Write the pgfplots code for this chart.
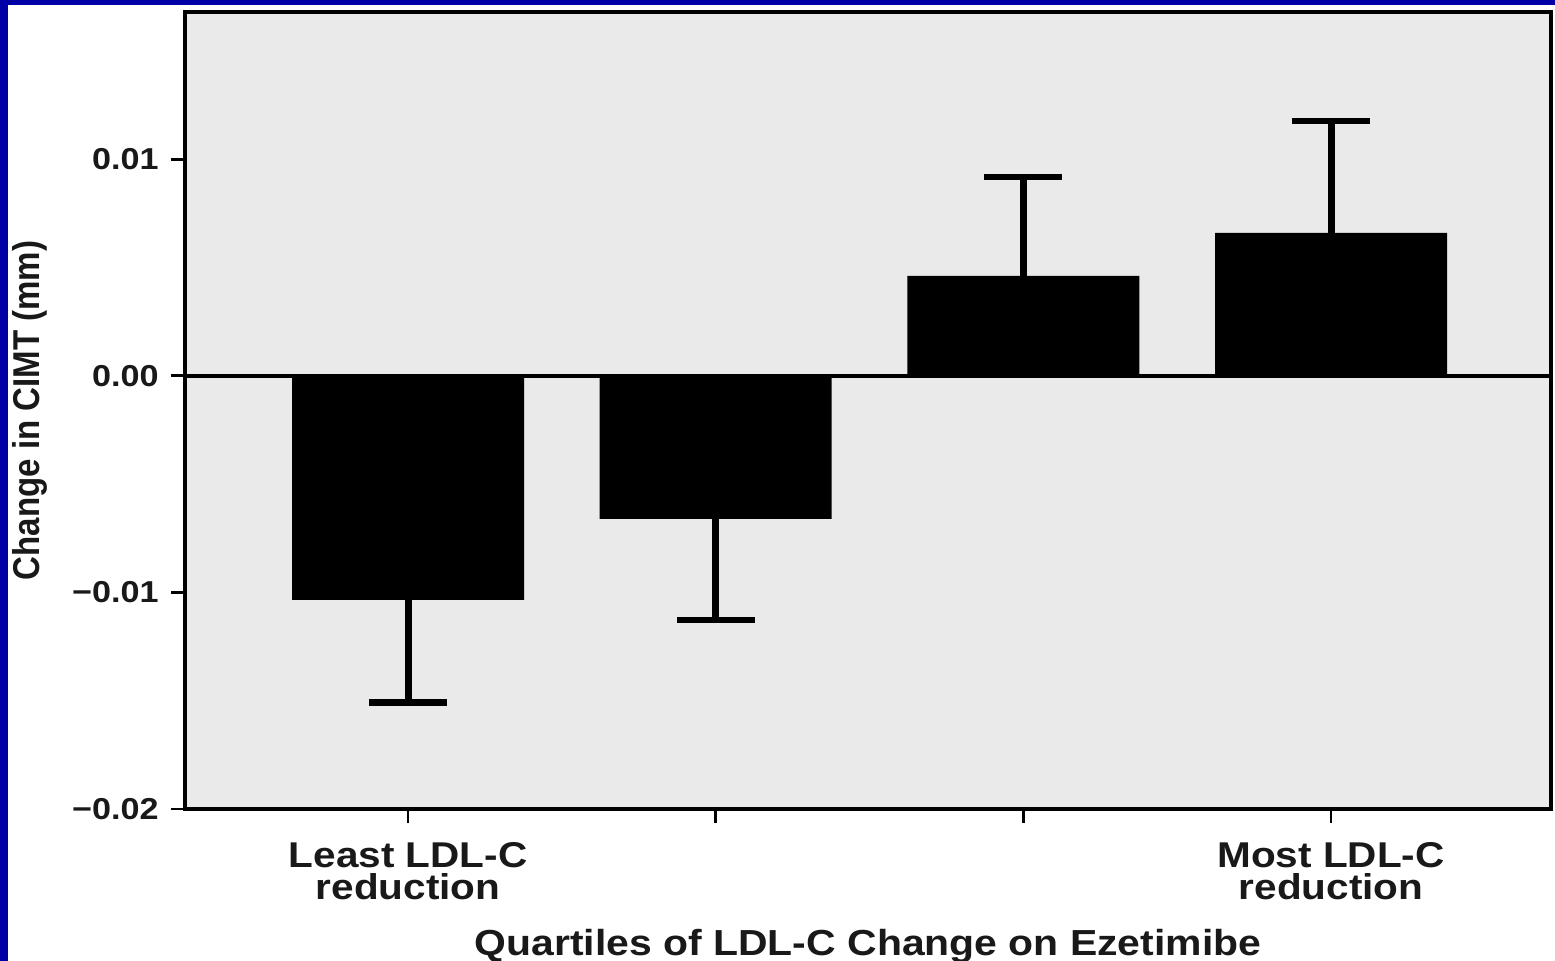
\documentclass[border=0pt]{standalone}
\usepackage{fontspec}
\setmainfont{Liberation Sans}[FakeStretch=1.13]
\newfontfamily\ylabfont{Liberation Sans}
\usepackage{pgfplots}
\pgfplotsset{compat=1.18}
\definecolor{slideblue}{RGB}{0,0,166}
\definecolor{panel}{RGB}{234,234,234}

% mean change in CIMT per quartile, with one-sided error bars
\pgfplotstableread{
q val errp errm
0 -0.01034 0 0.00475
1 -0.00660 0 0.00466
2 0.00462 0.00457 0
3 0.00660 0.00517 0
}\cimt

\begin{document}
\bfseries
\begin{tikzpicture}
\useasboundingbox (0,0) rectangle (15.55,9.61);
\fill[slideblue] (0,0) rectangle (15.55,9.61);
\fill[white] (0.08,0) rectangle (15.55,9.56);
\begin{axis}[
  at={(1.85cm,1.52cm)}, anchor=south west,
  scale only axis, width=13.66cm, height=7.97cm,
  xmin=-0.725, xmax=3.715, ymin=-0.02, ymax=0.0168,
  axis background/.style={fill=panel},
  axis line style={line width=1.3pt, black},
  tick align=outside, tick pos=left,
  major tick length=0.14cm,
  tick style={line width=0.8pt, black},
  xtick={0,1,2,3},
  xticklabels={{Least LDL-C\\reduction},{},{},{Most LDL-C\\reduction}},
  ytick={-0.02,-0.01,0,0.01},
  yticklabels={−0.02,−0.01,0.00,0.01},
  x tick label style={align=center, yshift=-0.07cm,
    font=\bfseries\fontsize{10.2}{9.2}\selectfont, text=black!90},
  y tick label style={font=\bfseries\fontsize{8.6}{10}\selectfont, text=black!90},
  xlabel={Quartiles of LDL-C Change on Ezetimibe},
  xlabel style={at={(axis description cs:0.5,-0.172)}, anchor=center,
    font=\bfseries\fontsize{10.3}{12}\selectfont, text=black!90},
  ylabel={\scalebox{1}[1.13]{Change in CIMT (mm)}},
  ylabel style={at={(axis description cs:-0.1135,0.5)}, anchor=center,
    font=\ylabfont\bfseries\fontsize{9.4}{11}\selectfont, text=black!90},
]
\addplot[ybar, bar width=2.32cm, bar shift=0pt, fill=black, draw=none]
  table[x=q, y=val]{\cimt};
% downward whiskers on the two negative quartiles
\addplot[draw=none, forget plot, skip coords between index={2}{4},
  error bars/.cd, y dir=minus, y explicit, error mark=|,
  error bar style={draw=black, line width=2pt},
  error mark options={draw=black, line width=1.8pt, mark size=0.39cm}]
  table[x=q, y=val, y error plus=errp, y error minus=errm]{\cimt};
% upward whiskers on the two positive quartiles
\addplot[draw=none, forget plot, skip coords between index={0}{2},
  error bars/.cd, y dir=plus, y explicit, error mark=|,
  error bar style={draw=black, line width=2pt},
  error mark options={draw=black, line width=1.8pt, mark size=0.39cm}]
  table[x=q, y=val, y error plus=errp, y error minus=errm]{\cimt};
\draw[line width=1pt, black] (axis cs:-0.725,0) -- (axis cs:3.715,0);
\end{axis}
\end{tikzpicture}
\end{document}
